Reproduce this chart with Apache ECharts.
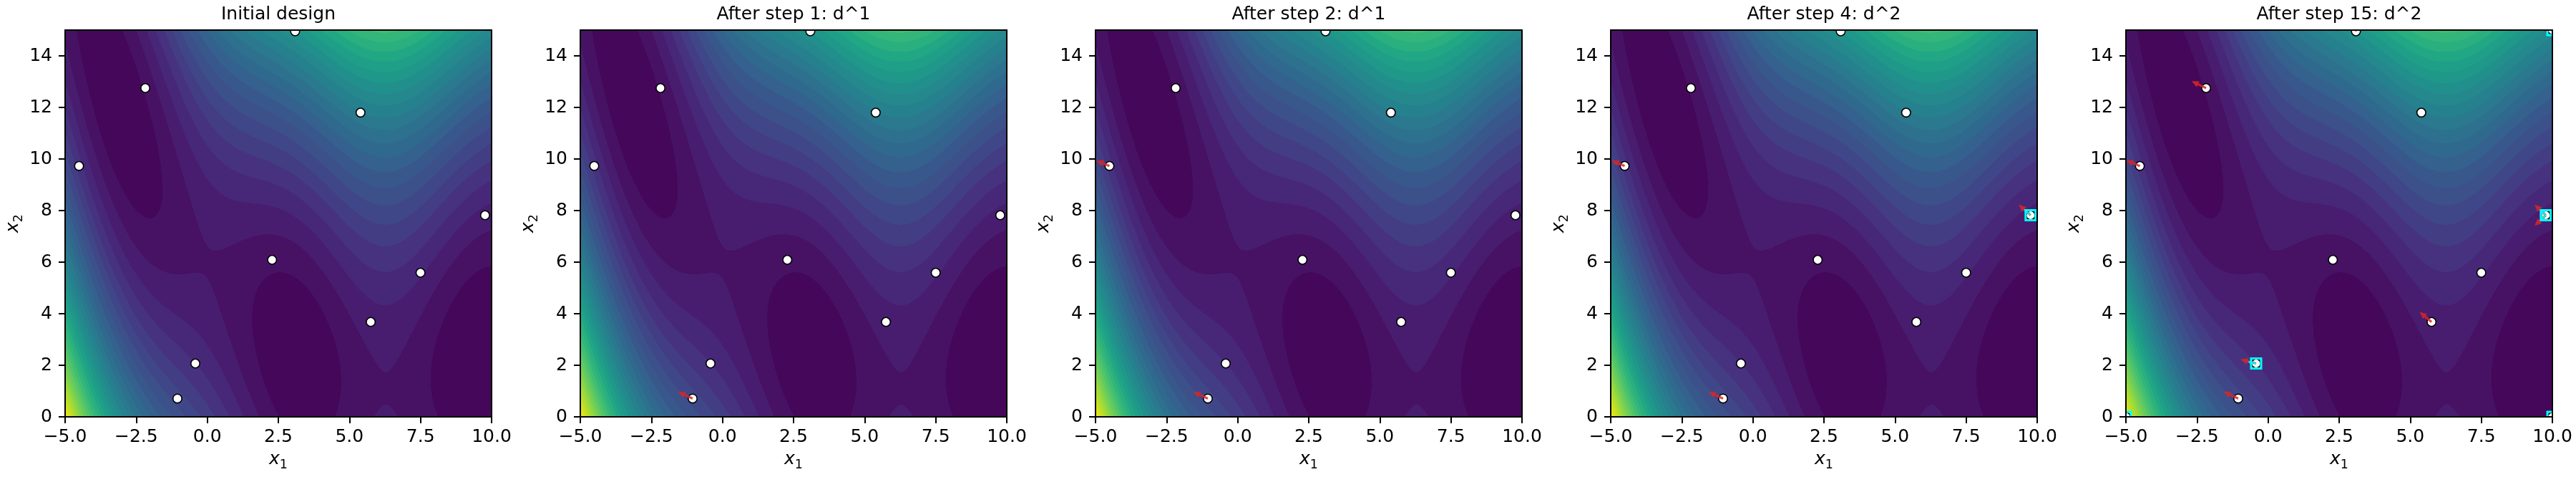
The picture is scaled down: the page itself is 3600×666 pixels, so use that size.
<!DOCTYPE html>
<html>
<head>
<meta charset="utf-8">
<script src="https://cdn.jsdelivr.net/npm/echarts@6/dist/echarts.min.js"></script>
<style>
html,body{margin:0;padding:0;background:#ffffff;}
#chart{width:3600px;height:666px;}
</style>
</head>
<body>
<div id="chart"></div>
<script>
// ---------------- data ----------------
const panelTitles = ['Initial design', 'After step 1: d^1', 'After step 2: d^1', 'After step 4: d^2', 'After step 15: d^2'];
const x1Range = [-5, 10];
const x2Range = [0, 15];
const x1TickValues = [-5, -2.5, 0, 2.5, 5, 7.5, 10];
const x2TickValues = [0, 2, 4, 6, 8, 10, 12, 14];
const contourLevelStep = 10;   // filled-contour levels 0,10,...,310
const contourLevelMax = 310;

// design points (same in every panel)
const designX1 = [-4.51, -2.18, 3.09, 5.39, 9.77, 2.28, 7.50, 5.75, -0.42, -1.05];
const designX2 = [9.73, 12.75, 14.95, 11.80, 7.82, 6.09, 5.59, 3.68, 2.07, 0.71];
// extra points per panel (corner points in the last panel)
const extraX1 = [[], [], [], [], [-5, 10, 10]];
const extraX2 = [[], [], [], [], [0, 0, 15]];

// red arrows per panel: [x1, x2, dx1, dx2]
const redArrows = [
  [],
  [[-1.05, 0.71, -0.51, 0.26]],
  [[-1.05, 0.71, -0.51, 0.26], [-4.51, 9.73, -0.46, 0.21]],
  [[-1.05, 0.71, -0.51, 0.26], [-4.51, 9.73, -0.46, 0.21], [9.77, 7.82, -0.42, 0.41]],
  [[-1.05, 0.71, -0.52, 0.27], [-4.51, 9.73, -0.48, 0.22], [-2.18, 12.75, -0.51, 0.27],
   [-0.42, 2.07, -0.55, 0.16], [5.75, 3.68, -0.42, 0.39], [9.77, 7.82, -0.40, 0.41],
   [9.77, 7.82, -0.40, -0.41], [3.09, 14.95, 0.0, 0.5], [10, 15, -0.45, 0.08]]
];
// cyan arrows per panel: [x1, x2, dx1, dx2]
const cyanArrows = [
  [], [], [],
  [[9.77, 7.82, -0.24, 0.24]],
  [[-0.42, 2.07, -0.30, 0.07], [9.77, 7.82, -0.20, 0.20], [9.77, 7.82, -0.20, -0.20]]
];
// cyan squares per panel: [x1, x2]
const cyanSquares = [
  [], [], [],
  [[9.77, 7.82]],
  [[-0.42, 2.07], [9.77, 7.82], [-5, 0], [10, 0], [10, 15]]
];

// objective shown by the contour field (Branin function)
function branin(x1, x2) {
  const b = 5.1 / (4 * Math.PI * Math.PI), c = 5 / Math.PI, r = 6, s = 10, t = 1 / (8 * Math.PI);
  const q = x2 - b * x1 * x1 + c * x1 - r;
  return q * q + s * (1 - t) * Math.cos(x1) + s;
}

// ---------------- layout / style ----------------
const PANEL_STEP = 720, GRID_LEFT = 91, GRID_TOP = 42, GRID_W = 596, GRID_H = 540;
const FONT = 'DejaVu Sans';
const VIRIDIS = ['#440154','#471365','#482475','#463480','#414487','#3b528b','#355f8d','#2f6c8e','#2a788e','#25848e','#21908c','#1e9c89','#22a884','#2fb47c','#43bf71','#5ec962','#7ad151','#9bd93c','#bddf26','#dfe318','#fde725'];
function hexRgb(h) { return [parseInt(h.slice(1,3),16), parseInt(h.slice(3,5),16), parseInt(h.slice(5,7),16)]; }
function viridis(t) {
  t = Math.min(1, Math.max(0, t));
  const sc = t * (VIRIDIS.length - 1);
  const i = Math.min(Math.floor(sc), VIRIDIS.length - 2);
  const f = sc - i;
  const a = hexRgb(VIRIDIS[i]), b = hexRgb(VIRIDIS[i + 1]);
  return 'rgb(' + [0,1,2].map(k => Math.round(a[k] + (b[k] - a[k]) * f)).join(',') + ')';
}
const nBands = Math.round(contourLevelMax / contourLevelStep);
const bandColors = [];
for (let k = 0; k < nBands; k++) bandColors.push(viridis((k * contourLevelStep + contourLevelStep / 2) / contourLevelMax));

// field sampled on the plot resolution, stored as horizontal runs of equal contour band
const COLS = GRID_W, ROWS = GRID_H;
const contourRuns = [];
(function buildRuns() {
  const dx = (x1Range[1] - x1Range[0]) / COLS, dy = (x2Range[1] - x2Range[0]) / ROWS;
  const bandOf = v => Math.max(0, Math.min(nBands - 1, Math.floor(v / contourLevelStep)));
  for (let r = 0; r < ROWS; r++) {
    const lo = x2Range[0] + r * dy, hi = lo + dy, yc = lo + dy / 2;
    let start = 0, band = bandOf(branin(x1Range[0] + dx / 2, yc));
    for (let c = 1; c <= COLS; c++) {
      const bnd = c < COLS ? bandOf(branin(x1Range[0] + (c + 0.5) * dx, yc)) : -1;
      if (bnd !== band) {
        contourRuns.push([x1Range[0] + start * dx, x1Range[0] + c * dx, lo, hi, band]);
        start = c; band = bnd;
      }
    }
  }
})();

function renderRun(params, api) {
  const p0 = api.coord([api.value(0), api.value(3)]);
  const p1 = api.coord([api.value(1), api.value(2)]);
  return { type: 'rect', shape: { x: p0[0], y: p0[1], width: p1[0] - p0[0], height: p1[1] - p0[1] },
           style: { fill: bandColors[api.value(4)] }, silent: true };
}
function renderPoint(params, api) {
  const p = api.coord([api.value(0), api.value(1)]);
  return { type: 'circle', shape: { cx: p[0], cy: p[1], r: 6.2 },
           style: { fill: '#ffffff', stroke: '#000000', lineWidth: 1.6 } };
}
function makeArrowRenderer(color, shaftW, headL, headW) {
  return function (params, api) {
    const x = api.value(0), y = api.value(1);
    const p0 = api.coord([x, y]);
    const p1 = api.coord([x + api.value(2), y + api.value(3)]);
    const ddx = p1[0] - p0[0], ddy = p1[1] - p0[1];
    const L = Math.hypot(ddx, ddy) || 1;
    const ux = ddx / L, uy = ddy / L, nx = -uy, ny = ux;
    const hb = Math.max(L - headL, 0);
    const bx = p0[0] + ux * hb, by = p0[1] + uy * hb;
    const pts = [
      [p0[0] + nx * shaftW / 2, p0[1] + ny * shaftW / 2],
      [bx + nx * shaftW / 2, by + ny * shaftW / 2],
      [bx + nx * headW / 2, by + ny * headW / 2],
      [p1[0], p1[1]],
      [bx - nx * headW / 2, by - ny * headW / 2],
      [bx - nx * shaftW / 2, by - ny * shaftW / 2],
      [p0[0] - nx * shaftW / 2, p0[1] - ny * shaftW / 2]
    ];
    return { type: 'polygon', shape: { points: pts }, style: { fill: color } };
  };
}
function renderSquare(params, api) {
  const p = api.coord([api.value(0), api.value(1)]);
  const s = 14;
  return { type: 'rect', shape: { x: p[0] - s / 2, y: p[1] - s / 2, width: s, height: s },
           style: { fill: 'none', stroke: '#00ffff', lineWidth: 3 } };
}

const fmtNum = v => (v < 0 ? '\u2212' : '') + Math.abs(v).toFixed(1);
const nameRich = {
  v: { fontFamily: FONT, fontStyle: 'italic', fontSize: 25, color: '#000', lineHeight: 34 },
  s: { fontFamily: FONT, fontSize: 17.5, color: '#000', lineHeight: 18, verticalAlign: 'bottom' }
};

const common = { type: 'custom', silent: true, animation: false, progressive: 0, progressiveThreshold: 1e9 };
const grids = [], xAxes = [], yAxes = [], series = [], titles = [];
for (let i = 0; i < panelTitles.length; i++) {
  const left = GRID_LEFT + i * PANEL_STEP;
  grids.push({ left: left, top: GRID_TOP, width: GRID_W, height: GRID_H, show: true,
               borderColor: '#000', borderWidth: 2, backgroundColor: 'transparent', z: 10,
               containLabel: false, outerBoundsMode: 'none' });
  titles.push({ text: panelTitles[i], left: left + GRID_W / 2, top: 8, textAlign: 'center', padding: 0,
                textStyle: { fontFamily: FONT, fontSize: 25, fontWeight: 'normal', color: '#000' } });
  xAxes.push({
    type: 'value', gridIndex: i, min: x1Range[0], max: x1Range[1], z: 10,
    name: '{v|x}{s|1}', nameLocation: 'middle', nameGap: 42, nameMoveOverlap: false,
    nameTextStyle: { rich: nameRich },
    axisLine: { show: true, onZero: false, lineStyle: { color: '#000', width: 2 } },
    axisTick: { show: true, length: 9, lineStyle: { color: '#000', width: 2 }, customValues: x1TickValues },
    axisLabel: { show: true, margin: 16, fontFamily: FONT, fontSize: 25, color: '#000',
                 customValues: x1TickValues, formatter: fmtNum },
    splitLine: { show: false }
  });
  yAxes.push({
    type: 'value', gridIndex: i, min: x2Range[0], max: x2Range[1], z: 10,
    name: '{v|x}{s|2}', nameLocation: 'middle', nameGap: 56, nameMoveOverlap: false,
    nameTextStyle: { rich: nameRich },
    axisLine: { show: true, onZero: false, lineStyle: { color: '#000', width: 2 } },
    axisTick: { show: true, length: 9, lineStyle: { color: '#000', width: 2 }, customValues: x2TickValues },
    axisLabel: { show: true, margin: 18, fontFamily: FONT, fontSize: 25, color: '#000',
                 customValues: x2TickValues, formatter: v => String(Math.round(v)) },
    splitLine: { show: false }
  });
  series.push(Object.assign({}, common, { xAxisIndex: i, yAxisIndex: i, data: contourRuns,
                renderItem: renderRun, z: 1 }));
  const pts = designX1.map((x, k) => [x, designX2[k]]).concat(extraX1[i].map((x, k) => [x, extraX2[i][k]]));
  series.push(Object.assign({}, common, { xAxisIndex: i, yAxisIndex: i, data: pts, renderItem: renderPoint,
                clip: true, z: 3 }));
  series.push(Object.assign({}, common, { xAxisIndex: i, yAxisIndex: i, data: redArrows[i],
                renderItem: makeArrowRenderer('rgba(214,39,40,0.85)', 3.2, 10, 9), clip: true, z: 4 }));
  series.push(Object.assign({}, common, { xAxisIndex: i, yAxisIndex: i, data: cyanArrows[i],
                renderItem: makeArrowRenderer('rgba(0,255,255,0.85)', 2.4, 6, 6), clip: true, z: 5 }));
  series.push(Object.assign({}, common, { xAxisIndex: i, yAxisIndex: i, data: cyanSquares[i],
                renderItem: renderSquare, clip: true, z: 6 }));
}

const chart = echarts.init(document.getElementById('chart'), null, { renderer: 'canvas' });
chart.setOption({
  backgroundColor: '#ffffff',
  animation: false,
  title: titles,
  grid: grids,
  xAxis: xAxes,
  yAxis: yAxes,
  series: series
});
</script>
</body>
</html>
